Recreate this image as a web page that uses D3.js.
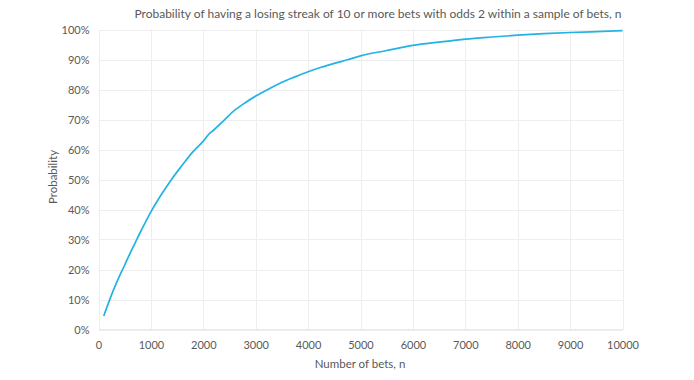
<!DOCTYPE html>
<html><head><meta charset="utf-8">
<script src="https://cdn.jsdelivr.net/npm/d3@7"></script>
<style>body{margin:0;background:#fff}svg{display:block}text{font-family:Lato,"Open Sans",sans-serif}</style>
</head><body>
<svg id="chart" width="694" height="380"></svg>
<script>
const betCounts = [100,200,300,400,500,600,700,800,900,1000,1200,1400,1600,1800,2000,2100,2200,2400,2600,2800,3000,3250,3500,3750,4000,4250,4500,4750,5000,5500,6000,6500,7000,7500,8000,8500,9000,9500,10000];
const probabilities = [0.045,0.093,0.138,0.178,0.215,0.253,0.289,0.325,0.359,0.392,0.45,0.502,0.548,0.592,0.628,0.65,0.665,0.698,0.731,0.756,0.778,0.802,0.824,0.842,0.859,0.874,0.887,0.899,0.912,0.93,0.947,0.958,0.968,0.975,0.981,0.986,0.99,0.993,0.996];
const xTicks = [0,1000,2000,3000,4000,5000,6000,7000,8000,9000,10000];
const yTicks = [0,0.1,0.2,0.3,0.4,0.5,0.6,0.7,0.8,0.9,1.0];
const titleText = "Probability of having a losing streak of 10 or more bets with odds 2 within a sample of bets, n";
const xLabel = "Number of bets, n";
const yLabel = "Probability";

const svg = d3.select("#chart");
const m = {left: 98.5, right: 622.5, top: 29.5, bottom: 329.5};
const x = d3.scaleLinear().domain([0, 10000]).range([m.left, m.right]);
const y = d3.scaleLinear().domain([0, 1]).range([m.bottom, m.top]);

// gridlines
svg.append("g").selectAll("line.h").data(yTicks.slice(1)).join("line")
  .attr("x1", m.left).attr("x2", m.right)
  .attr("y1", d => Math.round(y(d)) + 0.5).attr("y2", d => Math.round(y(d)) + 0.5)
  .attr("stroke", "#eeeeee").attr("stroke-width", 1);
svg.append("g").selectAll("line.v").data(xTicks).join("line")
  .attr("x1", d => Math.round(x(d)) + 0.5).attr("x2", d => Math.round(x(d)) + 0.5)
  .attr("y1", m.top).attr("y2", m.bottom)
  .attr("stroke", "#eeeeee").attr("stroke-width", 1);

// x axis
const xAxis = svg.append("g").attr("transform", `translate(0,${m.bottom})`)
  .call(d3.axisBottom(x).tickValues(xTicks).tickFormat(d3.format("d")).tickSize(0).tickPadding(12));
xAxis.select(".domain").attr("stroke", "#d9d9d9");
xAxis.selectAll("text").attr("fill", "#595959").style("font-size", "11px").style("font-family", "Lato, 'Open Sans', sans-serif");

// y axis
const yAxis = svg.append("g").attr("transform", `translate(${m.left},0)`)
  .call(d3.axisLeft(y).tickValues(yTicks).tickFormat(d3.format(".0%")).tickSize(0).tickPadding(9));
yAxis.select(".domain").remove();
yAxis.selectAll("text").attr("fill", "#595959").style("font-size", "11px").style("font-family", "Lato, 'Open Sans', sans-serif");

// line
const data = betCounts.map((n, i) => ({n, p: probabilities[i]}));
svg.append("path").datum(data)
  .attr("fill", "none").attr("stroke", "#22b3e4").attr("stroke-width", 1.7)
  .attr("stroke-linejoin", "round")
  .attr("d", d3.line().x(d => x(d.n)).y(d => y(d.p)).curve(d3.curveMonotoneX));

// title and labels
svg.append("text").attr("x", 378).attr("y", 18).attr("text-anchor", "middle")
  .attr("fill", "#595959").style("font-size", "12px").text(titleText);
svg.append("text").attr("x", 360).attr("y", 368).attr("text-anchor", "middle")
  .attr("fill", "#595959").style("font-size", "11.5px").text(xLabel);
svg.append("text").attr("transform", "translate(57,177) rotate(-90)").attr("text-anchor", "middle")
  .attr("fill", "#595959").style("font-size", "11.5px").text(yLabel);
</script>
</body></html>
